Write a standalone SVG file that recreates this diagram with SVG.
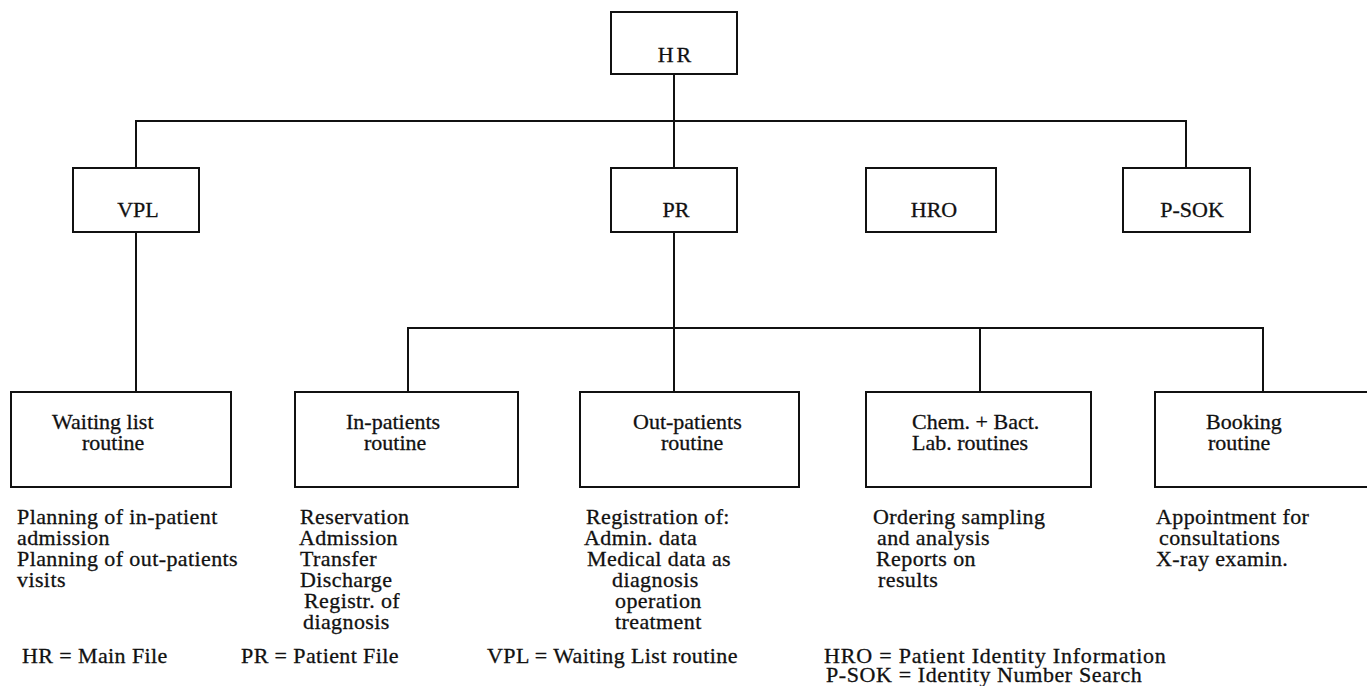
<svg xmlns="http://www.w3.org/2000/svg" width="1367" height="686" viewBox="0 0 1367 686">
  <style>
    .box { fill: #fff; stroke: #111; stroke-width: 2; }
    .wire { fill: none; stroke: #111; stroke-width: 2; }
    text { font-family: 'Liberation Serif', 'Times New Roman', serif; font-size: 22px; fill: #111; stroke: #111; stroke-width: 0.3; }
    .note { letter-spacing: 0.4px; }
  </style>
  <rect width="1367" height="686" fill="#fff"/>

  <!-- connectors -->
  <g id="connectors">
    <path class="wire" d="M674 74 V168"/>
    <path class="wire" d="M136 168 V121 H1186 V168"/>
    <path class="wire" d="M136 232 V392"/>
    <path class="wire" d="M674 232 V392"/>
    <path class="wire" d="M408 392 V328 H1263 V392"/>
    <path class="wire" d="M980 328 V392"/>
  </g>

  <!-- top level -->
  <g id="hr">
    <rect class="box" x="611" y="12" width="126" height="62"/>
    <text x="676" y="62" text-anchor="middle" letter-spacing="3">HR</text>
  </g>

  <!-- second level -->
  <g id="vpl">
    <rect class="box" x="73" y="168" width="126" height="64"/>
    <text x="138" y="217" text-anchor="middle">VPL</text>
  </g>
  <g id="pr">
    <rect class="box" x="611" y="168" width="126" height="64"/>
    <text x="676" y="217" text-anchor="middle">PR</text>
  </g>
  <g id="hro">
    <rect class="box" x="866" y="168" width="130" height="64"/>
    <text x="934" y="217" text-anchor="middle">HRO</text>
  </g>
  <g id="psok">
    <rect class="box" x="1123" y="168" width="127" height="64"/>
    <text x="1192" y="217" text-anchor="middle">P-SOK</text>
  </g>

  <!-- third level routines, each with its task list below -->
  <g id="waiting-list">
    <rect class="box" x="11" y="392" width="220" height="95"/>
    <text x="52" y="429">Waiting list</text>
    <text x="82" y="450">routine</text>
    <g class="note">
      <text x="17" y="524">Planning of in-patient</text>
      <text x="17" y="545">admission</text>
      <text x="17" y="566">Planning of out-patients</text>
      <text x="17" y="587">visits</text>
    </g>
  </g>
  <g id="in-patients">
    <rect class="box" x="295" y="392" width="223" height="95"/>
    <text x="346" y="429">In-patients</text>
    <text x="364" y="450">routine</text>
    <g class="note">
      <text x="300" y="524">Reservation</text>
      <text x="299" y="545">Admission</text>
      <text x="300" y="566">Transfer</text>
      <text x="300" y="587">Discharge</text>
      <text x="304" y="608">Registr. of</text>
      <text x="303" y="629">diagnosis</text>
    </g>
  </g>
  <g id="out-patients">
    <rect class="box" x="580" y="392" width="219" height="95"/>
    <text x="633" y="429">Out-patients</text>
    <text x="661" y="450">routine</text>
    <g class="note">
      <text x="586" y="524">Registration of:</text>
      <text x="584" y="545">Admin. data</text>
      <text x="587" y="566">Medical data as</text>
      <text x="612" y="587">diagnosis</text>
      <text x="615" y="608">operation</text>
      <text x="615" y="629">treatment</text>
    </g>
  </g>
  <g id="lab">
    <rect class="box" x="866" y="392" width="225" height="95"/>
    <text x="912" y="429">Chem. + Bact.</text>
    <text x="912" y="450">Lab. routines</text>
    <g class="note">
      <text x="873" y="524">Ordering sampling</text>
      <text x="877" y="545">and analysis</text>
      <text x="876" y="566">Reports on</text>
      <text x="878" y="587">results</text>
    </g>
  </g>
  <g id="booking">
    <rect class="box" x="1155" y="392" width="230" height="95"/>
    <text x="1206" y="429">Booking</text>
    <text x="1208" y="450">routine</text>
    <g class="note">
      <text x="1156" y="524">Appointment for</text>
      <text x="1159" y="545">consultations</text>
      <text x="1156" y="566">X-ray examin.</text>
    </g>
  </g>

  <!-- key to abbreviations -->
  <g id="legend" class="note">
    <text x="22" y="663">HR = Main File</text>
    <text x="241" y="663">PR = Patient File</text>
    <text x="487" y="663">VPL = Waiting List routine</text>
    <text x="824" y="663" letter-spacing="0.8">HRO = Patient Identity Information</text>
    <text x="826" y="682" letter-spacing="0.6">P-SOK = Identity Number Search</text>
  </g>
</svg>
